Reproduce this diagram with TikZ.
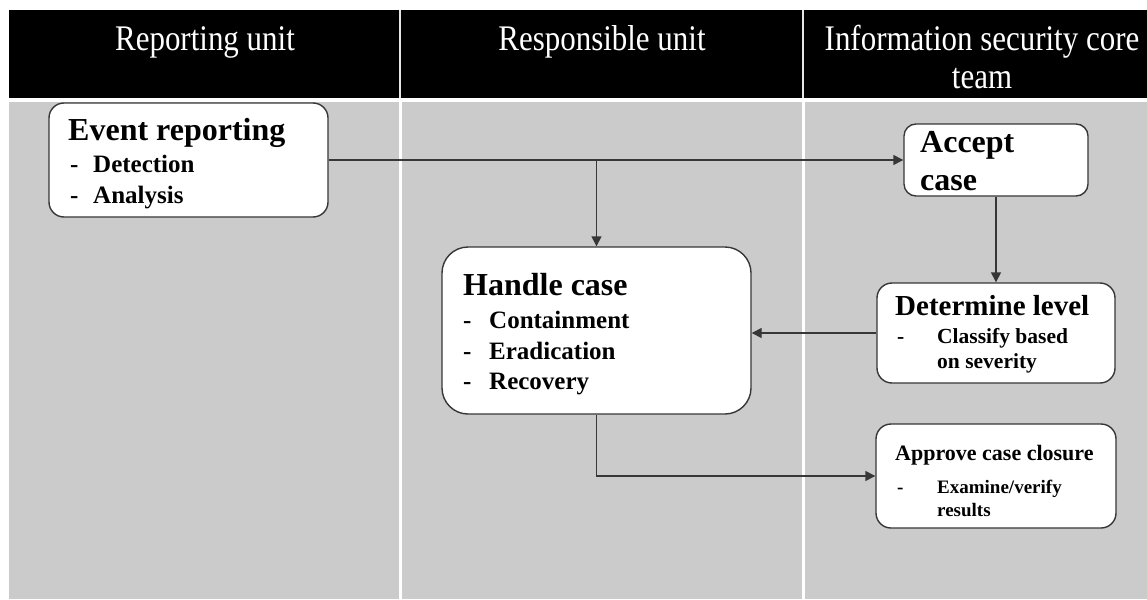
\documentclass[tikz,border=0pt]{standalone}
\usepackage{fontspec}
\setmainfont{Liberation Serif}
\newfontfamily\lanefont[FakeStretch=0.86]{Liberation Serif}
\usetikzlibrary{arrows.meta}
\definecolor{lanegray}{RGB}{203,203,203}
\definecolor{edgegray}{RGB}{55,55,55}
\begin{document}
\begin{tikzpicture}[x=1pt,y=-1pt,
  lanehead/.style={text=white,font=\lanefont\fontsize{36}{38}\selectfont,inner sep=0,anchor=base},
  stepbox/.style={draw=edgegray,line width=1.4pt,fill=white,inner sep=0,rounded corners=#1},
  stepbox/.default=15pt,
  title/.style={font=\bfseries\fontsize{32}{36}\selectfont,anchor=base west,inner sep=0},
  item/.style={font=\bfseries\fontsize{25}{28}\selectfont,anchor=base west,inner sep=0},
  titlem/.style={font=\bfseries\fontsize{29}{32}\selectfont,anchor=base west,inner sep=0},
  itemm/.style={font=\bfseries\fontsize{21.5}{24}\selectfont,anchor=base west,inner sep=0},
  titles/.style={font=\bfseries\fontsize{22}{25}\selectfont,anchor=base west,inner sep=0},
  items/.style={font=\bfseries\fontsize{19}{22}\selectfont,anchor=base west,inner sep=0},
  flow/.style={draw=edgegray,line width=1.4pt,-{Triangle[length=10pt,width=10pt]}}
]
\useasboundingbox (0,0) rectangle (1147,599);

% swimlane header band and lane background
\fill[black] (9,10) rectangle (1147,98);
\fill[lanegray] (9,102) rectangle (1147,599);
\foreach \sx in {400,803} {
  \draw[white!80!gray,line width=2pt] (\sx,10) -- (\sx,98);
  \draw[white,line width=3pt] (\sx,102) -- (\sx,599);
}

% lane titles
\node[lanehead] (lane1) at (205,51) {Reporting unit};
\node[lanehead] (lane2) at (602,51) {Responsible unit};
\node[lanehead] (lane3a) at (982,51) {Information security core};
\node[lanehead] (lane3b) at (982,89) {team};

% process boxes
\node[stepbox,minimum width=279pt,minimum height=114pt] (event) at (188.5,160) {};
\node[stepbox=12pt,minimum width=184pt,minimum height=72pt] (accept) at (996,160) {};
\node[stepbox,minimum width=238pt,minimum height=100pt] (determine) at (996,333) {};
\node[stepbox=26pt,minimum width=309pt,minimum height=167pt] (handle) at (596.5,330.5) {};
\node[stepbox,minimum width=240pt,minimum height=104pt] (approve) at (996,476) {};

% box texts
\node[title] (evt) at (68,140) {Event reporting};
\node[item] (evd1) at (70,172) {-};
\node[item] (evt1) at (93,172) {Detection};
\node[item] (evd2) at (70,203) {-};
\node[item] (evt2) at (93,203) {Analysis};

\node[title] (acc1) at (920,152) {Accept};
\node[title] (acc2) at (920,190) {case};

\node[title] (hnd) at (463,295) {Handle case};
\node[item] (hnd1d) at (463,328) {-};
\node[item] (hnd1) at (489,328) {Containment};
\node[item] (hnd2d) at (463,359) {-};
\node[item] (hnd2) at (489,359) {Eradication};
\node[item] (hnd3d) at (463,389) {-};
\node[item] (hnd3) at (489,389) {Recovery};

\node[titlem] (det) at (895,315) {Determine level};
\node[itemm] (det1d) at (897,343) {-};
\node[itemm] (det1) at (937,343) {Classify based};
\node[itemm] (det2) at (937,368) {on severity};

\node[titles] (apr) at (895,460) {Approve case closure};
\node[items] (apr1d) at (897,493) {-};
\node[items] (apr1) at (937,493) {Examine/verify};
\node[items] (apr2) at (937,516) {results};

% connectors
\coordinate (split) at (handle.north |- event.east);
\draw[flow] (event.east) -- (accept.west);
\draw[flow] (split) -- (handle.north);
\draw[flow] (accept.south) -- (determine.north);
\draw[flow] (determine.west) -- (determine.west -| handle.east);
\draw[flow] (handle.south) |- (approve.west);
\end{tikzpicture}
\end{document}
